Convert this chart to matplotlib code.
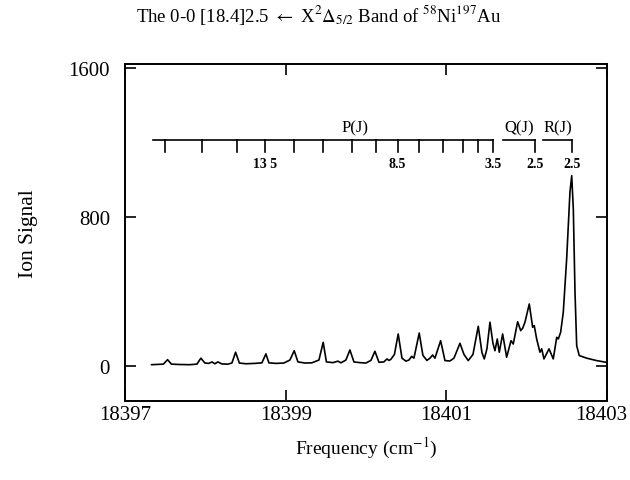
import numpy as np
import matplotlib
matplotlib.use("Agg")
import matplotlib.pyplot as plt
from matplotlib.transforms import ScaledTranslation

# spectrum trace (frequency in cm-1, ion signal)
freq = [18397.327, 18397.474, 18397.526, 18397.574, 18397.680, 18397.804,
        18397.892, 18397.941, 18397.991, 18398.041, 18398.079, 18398.116,
        18398.153, 18398.203, 18398.278, 18398.328, 18398.374, 18398.421,
        18398.502, 18398.615, 18398.702, 18398.752, 18398.789, 18398.877,
        18398.976, 18399.051, 18399.105, 18399.151, 18399.238, 18399.325,
        18399.413, 18399.466, 18399.506, 18399.587, 18399.650, 18399.687,
        18399.749, 18399.799, 18399.849, 18399.924, 18399.999, 18400.061,
        18400.111, 18400.161, 18400.223, 18400.261, 18400.286, 18400.310,
        18400.354, 18400.401, 18400.448, 18400.497, 18400.535, 18400.569,
        18400.597, 18400.663, 18400.709, 18400.759, 18400.797, 18400.830,
        18400.859, 18400.930, 18400.984, 18401.046, 18401.096, 18401.171,
        18401.221, 18401.274, 18401.333, 18401.399, 18401.445, 18401.474,
        18401.507, 18401.545, 18401.582, 18401.607, 18401.636, 18401.661,
        18401.703, 18401.753, 18401.807, 18401.835, 18401.890, 18401.928,
        18401.953, 18401.981, 18402.035, 18402.077, 18402.097, 18402.127,
        18402.168, 18402.190, 18402.218, 18402.281, 18402.334, 18402.377,
        18402.397, 18402.426, 18402.459, 18402.501, 18402.542, 18402.564,
        18402.584, 18402.605, 18402.626, 18402.658, 18402.751, 18402.875,
        18402.991]
signal = [5, 8, 32, 8, 6, 5,
          8, 40, 14, 12, 20, 10,
          20, 9, 8, 14, 72, 14,
          10, 12, 15, 63, 15, 12,
          14, 30, 80, 20, 14, 15,
          30, 125, 20, 16, 24, 15,
          30, 84, 20, 16, 14, 28,
          77, 18, 20, 36, 28, 34,
          60, 170, 40, 24, 30, 50,
          40, 175, 55, 28, 40, 57,
          40, 134, 27, 25, 40, 120,
          60, 27, 60, 211, 70, 36,
          90, 233, 120, 80, 143, 72,
          170, 45, 134, 116, 236, 188,
          201, 233, 331, 206, 215, 143,
          72, 90, 36, 90, 36, 152,
          143, 179, 287, 573, 931, 1020,
          841, 394, 107, 54, 40, 27,
          18]

# rotational line assignments
p_freq = [18397.493, 18397.950, 18398.387, 18398.739, 18399.105, 18399.459,
          18399.820, 18400.123, 18400.394, 18400.663, 18400.963, 18401.212,
          18401.399, 18401.586]
p_labels = {18398.739: "13 5", 18400.394: "8.5", 18401.586: "3.5"}
q_freq = [18401.703, 18402.106]
r_freq = [18402.202, 18402.571]

plt.rcParams["font.family"] = ["Liberation Serif", "DejaVu Serif"]
plt.rcParams["mathtext.fontset"] = "stix"

fig = plt.figure(figsize=(6.3, 4.81), dpi=100)
ax = fig.add_axes([0.199, 0.165, 0.764, 0.700])

ax.plot(freq, signal, color="black", lw=1.2, solid_joinstyle="round")

ax.set_xlim(18397, 18403)
ax.set_ylim(-188, 1620)
ax.set_xticks([18397, 18399, 18401, 18403])
ax.set_xticklabels(["18397", "18399", "18401", "18403"])
ax.set_yticks([0, 800, 1600])
ax.tick_params(direction="in", length=8, width=1.2, labelsize=15,
               top=True, right=True)
ax.tick_params(axis="y", pad=11)
ax.tick_params(axis="x", pad=3)
for s in ax.spines.values():
    s.set_linewidth(1.4)

# last x label sits a little left of its tick, as in the scan
lab = ax.get_xticklabels()[-1]
lab.set_transform(lab.get_transform() + ScaledTranslation(-0.05, 0, fig.dpi_scale_trans))

# branch ladders
y_line, y_tick, y_lab, y_br = 1213, 1147, 1085, 1281
ax.plot([18397.347, p_freq[-1]], [y_line, y_line], color="black", lw=1.2)
for f in p_freq:
    ax.plot([f, f], [y_line, y_tick], color="black", lw=1.2)
    if f in p_labels:
        ax.text(f, y_lab, p_labels[f], ha="center", va="center", fontsize=10,
                fontweight="bold")
ax.text(18399.86, y_br, "P(J)", ha="center", va="center", fontsize=12)

for fr, name in [(q_freq, "Q(J)"), (r_freq, "R(J)")]:
    ax.plot([fr[0], fr[1]], [y_line, y_line], color="black", lw=1.2)
    ax.plot([fr[1], fr[1]], [y_line, y_tick], color="black", lw=1.2)
    ax.text(fr[1], y_lab, "2.5", ha="center", va="center", fontsize=10,
            fontweight="bold")
    ax.text((fr[0] + fr[1]) / 2, y_br, name, ha="center", va="center",
            fontsize=12)

ax.set_xlabel(r"Frequency (cm$^{-1}$)", fontsize=14, labelpad=8)
ax.set_ylabel("Ion Signal", fontsize=15.5, labelpad=22)

fig.text(0.505, 0.968,
         r"The 0-0 [18.4]2.5 $\leftarrow$ X$^2\mathrm{\Delta}_{5/2}$ Band of $^{58}$Ni$^{197}$Au",
         ha="center", va="center", fontsize=13.5)

fig.savefig("out.png", dpi=100)
